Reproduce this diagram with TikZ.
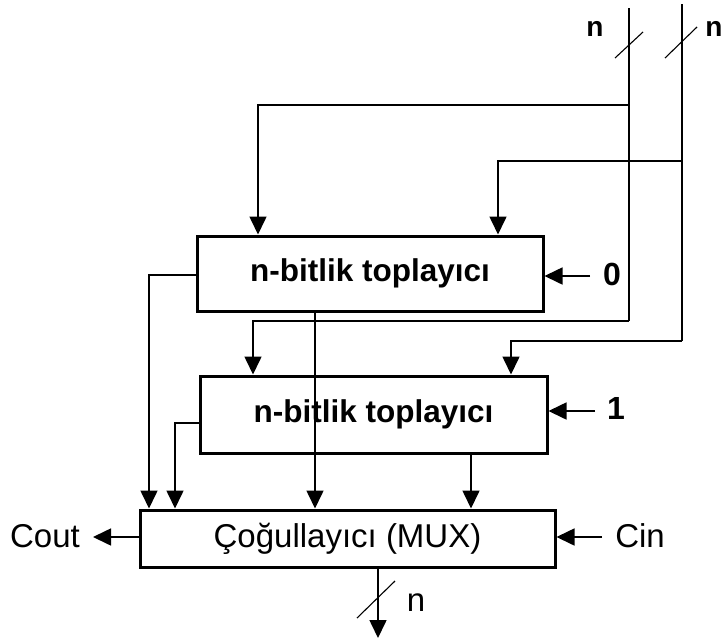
\documentclass[tikz,border=0pt]{standalone}
\usepackage{fontspec}
\setmainfont{Liberation Sans}
\usetikzlibrary{arrows.meta}
\begin{document}
\begin{tikzpicture}[x=1pt,y=-1pt,
  wire/.style={line width=1.6pt},
  arr/.style={wire,-{Triangle[width=17pt,length=18pt]}},
  slashmark/.style={line width=1.1pt},
  blockbox/.style={draw,line width=3pt,fill=white,inner sep=0pt},
  addlabel/.style={font=\fontsize{31.5}{36}\selectfont\bfseries},
  plainlabel/.style={font=\fontsize{33}{36}\selectfont},
  digitlabel/.style={font=\fontsize{32}{36}\selectfont\bfseries},
  buslabel/.style={font=\fontsize{28}{32}\selectfont\bfseries}]
\useasboundingbox (0,0) rectangle (725,643);

% blocks
\node[blockbox,minimum width=346pt,minimum height=75pt,addlabel] (add0) at (370,273.5) {n-bitlik toplayıcı};
\node[blockbox,minimum width=347pt,minimum height=77pt,addlabel] (add1) at (373.5,414.5) {n-bitlik toplayıcı};
\node[blockbox,minimum width=415pt,minimum height=57pt,plainlabel] (mux) at (347.5,538.5) {Çoğullayıcı (MUX)};

% the two n-bit operand buses
\coordinate (aTop) at (629,8);
\coordinate (aBot) at (629,321);
\coordinate (bTop) at (682,4);
\coordinate (bBot) at (682,341);
\draw[wire] (aTop) -- (aBot);
\draw[wire] (bTop) -- (bBot);
\draw[slashmark] (615,58) -- (643,32);
\draw[slashmark] (665,58) -- (697,27);
\node[buslabel] (nA) at (595,29) {n};
\node[buslabel] (nB) at (714,29) {n};

% operand A to both adders
\coordinate (aJ) at (629,105);
\coordinate (aK) at (258,105);
\draw[arr] (aJ) -- (aK) -- (aK |- add0.north);
\coordinate (aL) at (253,321);
\draw[arr] (aBot) -- (aL) -- (aL |- add1.north);

% operand B to both adders
\coordinate (bJ) at (682,161);
\coordinate (bK) at (498,161);
\draw[arr] (bJ) -- (bK) -- (bK |- add0.north);
\coordinate (bL) at (511,341);
\draw[arr] (bBot) -- (bL) -- (bL |- add1.north);

% carry-in constants
\coordinate (c0) at (590,276);
\draw[arr] (c0) -- (c0 -| add0.east);
\node[digitlabel] (zero) at (612,274) {0};
\coordinate (c1) at (595,411);
\draw[arr] (c1) -- (c1 -| add1.east);
\node[digitlabel] (one) at (616,408) {1};

% adder outputs into the multiplexer
\coordinate (s0c) at (197,275);
\coordinate (s0cx) at (149,275);
\draw[arr] (s0c) -- (s0cx) -- (s0cx |- mux.north);
\coordinate (s0s) at (315,311);
\draw[arr] (s0s) -- (s0s |- mux.north);
\coordinate (s1c) at (200,423);
\coordinate (s1cx) at (175,423);
\draw[arr] (s1c) -- (s1cx) -- (s1cx |- mux.north);
\coordinate (s1s) at (471,453);
\draw[arr] (s1s) -- (s1s |- mux.north);

% carry in / carry out
\node[plainlabel] (cout) at (45,536) {Cout};
\coordinate (coutEnd) at (93,537);
\draw[arr] (mux.west |- coutEnd) -- (coutEnd);
\node[plainlabel] (cin) at (640,536) {Cin};
\coordinate (cinStart) at (602,537);
\draw[arr] (cinStart) -- (cinStart -| mux.east);

% result bus
\coordinate (outTop) at (378,567);
\coordinate (outEnd) at (378,638);
\draw[arr] (outTop) -- (outEnd);
\draw[slashmark] (357,618) -- (395,581);
\node[plainlabel] (nOut) at (416,603) {n};
\end{tikzpicture}
\end{document}
